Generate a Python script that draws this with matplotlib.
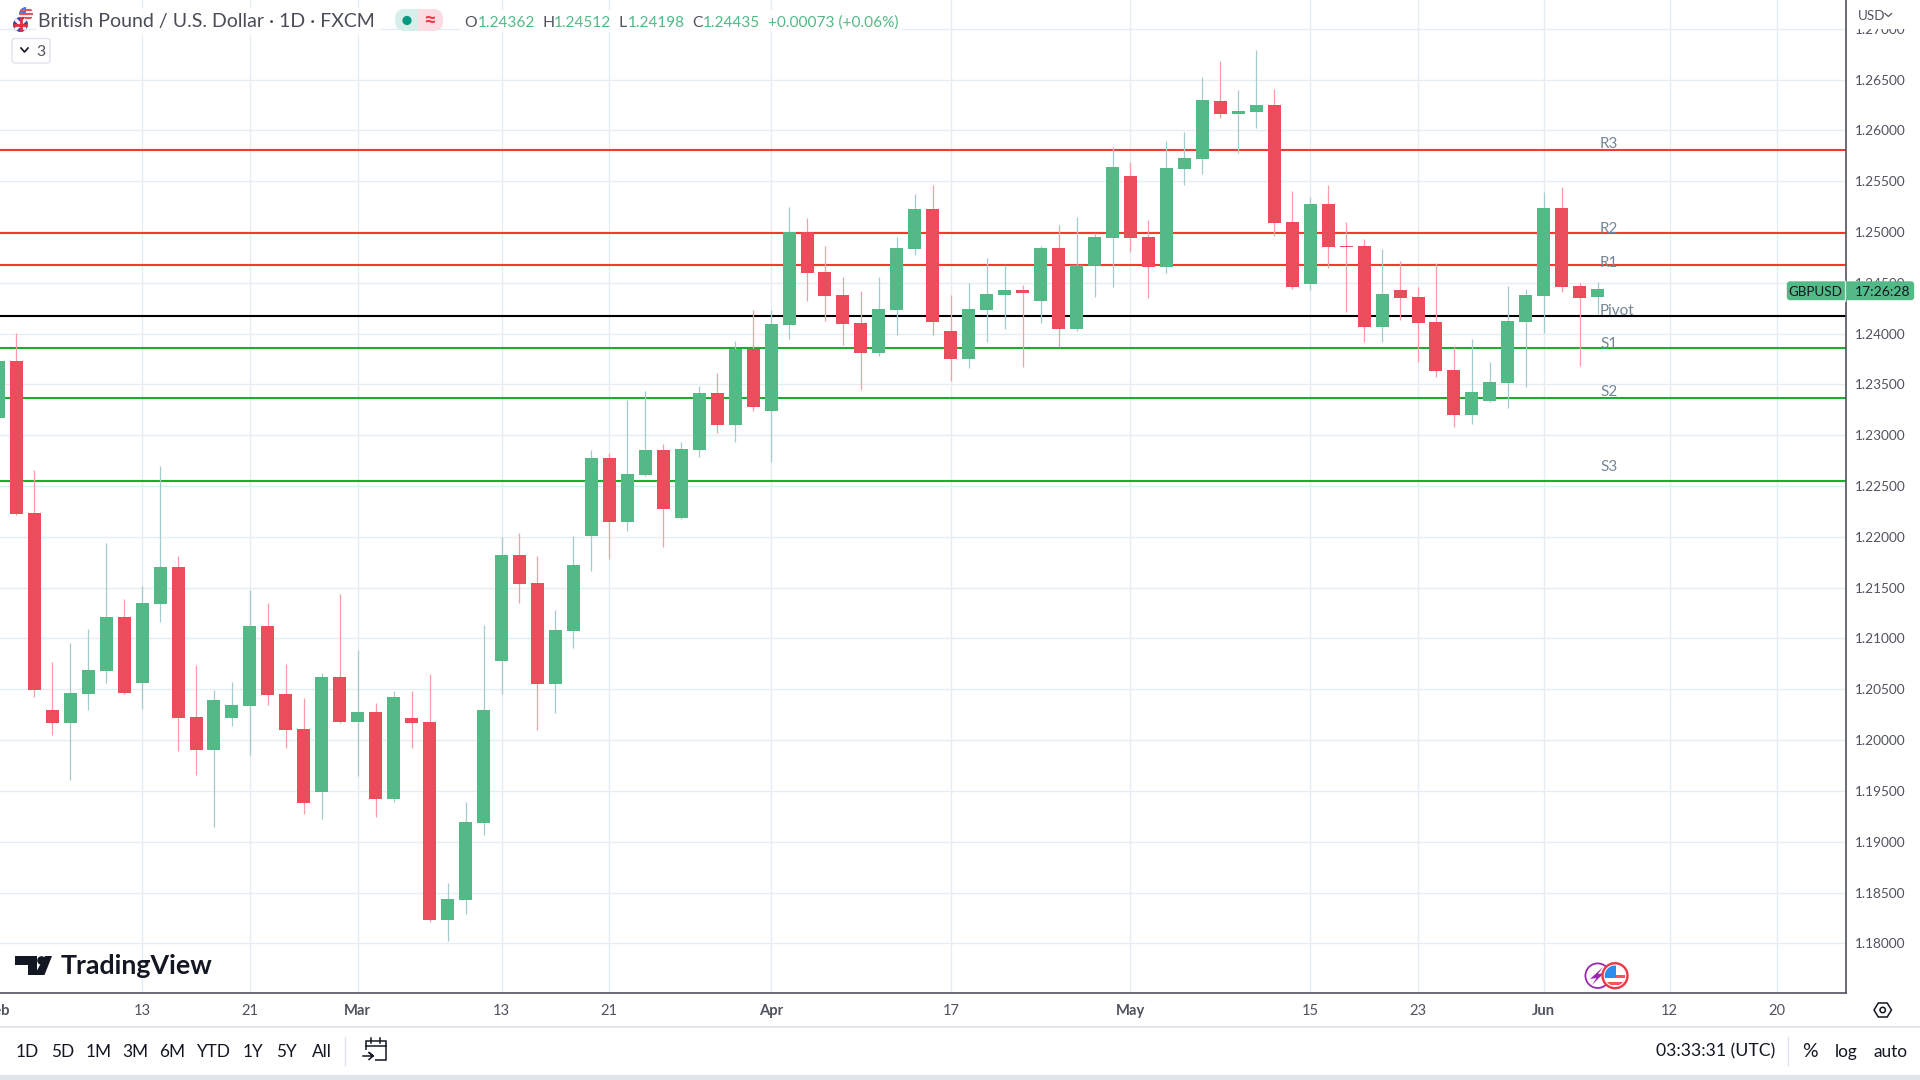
import numpy as np
import matplotlib
matplotlib.use("Agg")
import matplotlib.pyplot as plt
from matplotlib.patches import Rectangle, Circle, Polygon, FancyBboxPatch
from matplotlib.lines import Line2D

plt.rcParams["font.family"] = ["Lato", "DejaVu Sans"]

opens = [1.23170,1.23731,1.22235,1.20296,1.20168,1.20453,1.20680,1.21211,1.20562,1.21339,
 1.21703,1.20227,1.19902,1.20217,1.20335,1.21123,1.20453,1.20109,1.19489,1.20621,
 1.20178,1.20276,1.19420,1.20217,1.20178,1.18229,1.18426,1.19184,1.20778,1.21821,
 1.21546,1.20552,1.21073,1.22008,1.22776,1.22146,1.22609,1.22855,1.22186,1.22855,
 1.23416,1.23101,1.23849,1.23239,1.24085,1.25001,1.24607,1.24380,1.24105,1.23810,
 1.24233,1.24833,1.25227,1.24026,1.23751,1.24233,1.24380,1.24430,1.24321,1.24843,
 1.24046,1.24666,1.24941,1.25552,1.24951,1.24656,1.25621,1.25719,1.26290,1.26162,
 1.26182,1.26251,1.25099,1.24489,1.25276,1.24863,1.24863,1.24066,1.24430,1.24361,
 1.24115,1.23642,1.23199,1.23337,1.23514,1.24115,1.24371,1.25237,1.24469,1.24362]
closes = [1.23731,1.22225,1.20493,1.20168,1.20463,1.20690,1.21211,1.20463,1.21349,1.21703,
 1.20217,1.19902,1.20394,1.20345,1.21123,1.20444,1.20099,1.19380,1.20621,1.20178,
 1.20276,1.19420,1.20424,1.20168,1.18229,1.18436,1.19194,1.20296,1.21821,1.21536,
 1.20552,1.21083,1.21723,1.22776,1.22146,1.22619,1.22855,1.22274,1.22865,1.23416,
 1.23101,1.23849,1.23278,1.24095,1.25001,1.24597,1.24371,1.24095,1.23810,1.24243,
 1.24843,1.25227,1.24115,1.23751,1.24243,1.24390,1.24430,1.24400,1.24843,1.24046,
 1.24676,1.24951,1.25640,1.24941,1.24656,1.25630,1.25729,1.26300,1.26162,1.26191,
 1.26251,1.25089,1.24459,1.25276,1.24853,1.24853,1.24066,1.24390,1.24351,1.24105,
 1.23632,1.23199,1.23426,1.23524,1.24125,1.24380,1.25237,1.24459,1.24351,1.24435]
highs = [1.23839,1.24006,1.22658,1.20768,1.20955,1.21093,1.21940,1.21388,1.21516,1.22697,
 1.21812,1.20739,1.20493,1.20571,1.21477,1.21349,1.20749,1.20414,1.20660,1.21438,
 1.20886,1.20365,1.20483,1.20483,1.20650,1.18593,1.19390,1.21132,1.21999,1.22038,
 1.21812,1.21280,1.22008,1.22855,1.22825,1.23347,1.23436,1.22914,1.22934,1.23485,
 1.23613,1.23928,1.24233,1.24233,1.25247,1.25138,1.24863,1.24558,1.24420,1.24558,
 1.24951,1.25375,1.25463,1.24380,1.24499,1.24745,1.24676,1.24479,1.24863,1.25069,
 1.25148,1.24991,1.25837,1.25690,1.25119,1.25896,1.25985,1.26526,1.26684,1.26398,
 1.26792,1.26408,1.25404,1.25345,1.25463,1.25099,1.24932,1.24833,1.24715,1.24459,
 1.24695,1.23869,1.23947,1.23721,1.24469,1.24439,1.25394,1.25443,1.24499,1.24512]
lows = [1.23052,1.22215,1.20424,1.20050,1.19607,1.20296,1.20562,1.20458,1.20306,1.21162,
 1.19892,1.19656,1.19144,1.20138,1.19853,1.20345,1.19922,1.19272,1.19223,1.20168,
 1.19646,1.19243,1.19390,1.19922,1.18209,1.18022,1.18288,1.19066,1.20453,1.21349,
 1.20099,1.20266,1.20906,1.21664,1.21782,1.22058,1.22599,1.21900,1.22176,1.22786,
 1.23022,1.22934,1.23239,1.22737,1.23947,1.24321,1.24125,1.23888,1.23445,1.23780,
 1.23987,1.24774,1.23987,1.23534,1.23662,1.23918,1.24046,1.23672,1.24105,1.23869,
 1.24026,1.24361,1.24459,1.24804,1.24351,1.24597,1.25463,1.25571,1.26123,1.25778,
 1.26024,1.24961,1.24439,1.24430,1.24646,1.24213,1.23918,1.23918,1.24134,1.23721,
 1.23573,1.23081,1.23111,1.23332,1.23268,1.23475,1.24006,1.24410,1.23682,1.24198]

level_names = ["R3", "R2", "R1", "Pivot", "S1", "S2", "S3"]
level_values = [1.25808, 1.24994, 1.24676, 1.24174, 1.23859, 1.23367, 1.22550]
level_label_values = [1.25867, 1.25030, 1.24695, 1.24223, 1.23898, 1.23426, 1.22687]
level_colors = ["#F23A32", "#F23A32", "#F23A32", "#000000", "#1FAB2E", "#1FAB2E", "#1FAB2E"]

price_ticks = [1.18, 1.185, 1.19, 1.195, 1.20, 1.205, 1.21, 1.215, 1.22, 1.225, 1.23,
               1.235, 1.24, 1.245, 1.25, 1.255, 1.26, 1.265, 1.27]
date_ticks = [7, 13, 19, 27, 33, 42, 52, 62, 72, 78, 85, 92, 98]
date_labels = ["13", "21", "Mar", "13", "21", "Apr", "17", "May", "15", "23", "Jun", "12", "20"]
month_labels = {"Mar", "Apr", "May", "Jun"}

range_buttons = ["1D", "5D", "1M", "3M", "6M", "YTD", "1Y", "5Y", "All"]
range_centres = [27.7, 62.7, 98.7, 135, 171.7, 212.7, 253, 286.7, 322]

GREEN = "#53B987"
RED = "#EB4D5C"
WICK_G = "#A3CBCC"
WICK_R = "#F79EA8"
GRID = "#E6EDF2"
AXIS = "#50535E"
TXT = "#50535E"
DARK = "#131722"

W, H = 1920, 1080
fig = plt.figure(figsize=(W / 100, H / 100), dpi=100, facecolor="white")

AX_R = 1845.7
AX_B = 992.7
ax = fig.add_axes([0, (H - AX_B) / H, AX_R / W, AX_B / H])
ax.set_xlim(-0.907, 101.8)
ax.set_ylim(1.17514, 1.27284)

x = np.arange(-1, len(opens) - 1)
o, c, hi, lo = map(np.array, (opens, closes, highs, lows))
up = c >= o

ax.set_axisbelow(True)
ax.set_yticks(price_ticks)
ax.set_yticklabels([f"{v:.5f}" for v in price_ticks])
ax.yaxis.tick_right()
ax.set_xticks(date_ticks)
ax.set_xticklabels(date_labels)
ax.grid(True, color=GRID, lw=1.0)
ax.tick_params(axis="both", length=0)
ax.tick_params(axis="y", pad=6.8, labelsize=9.8, labelcolor=TXT)
ax.tick_params(axis="x", pad=8.2, labelsize=10.6, labelcolor=TXT)
for t in ax.get_xticklabels():
    if t.get_text() in month_labels:
        t.set_fontweight("bold")
for s in ("top", "left"):
    ax.spines[s].set_visible(False)
ax.spines["right"].set_color(AXIS)
ax.spines["right"].set_linewidth(1.2)
ax.spines["bottom"].set_color(AXIS)
ax.spines["bottom"].set_linewidth(1.2)

for val, col in zip(level_values, level_colors):
    ax.axhline(val, color=col, lw=1.5, zorder=2)
for name, val in zip(level_names, level_label_values):
    ax.text(88.13, val, name, color="#758696", fontsize=11, va="center", ha="left", zorder=2.5)

ax.vlines(x[up], lo[up], hi[up], color=WICK_G, lw=0.9, zorder=3)
ax.vlines(x[~up], lo[~up], hi[~up], color=WICK_R, lw=0.9, zorder=3)
ax.bar(x[up], np.abs(c - o)[up], bottom=np.minimum(o, c)[up], width=0.7234, color=GREEN, lw=0, zorder=4)
ax.bar(x[~up], np.abs(c - o)[~up], bottom=np.minimum(o, c)[~up], width=0.7234, color=RED, lw=0, zorder=4)

# overlay in screen pixels for the surrounding interface
ui = fig.add_axes([0, 0, 1, 1], zorder=10)
ui.set_xlim(0, W)
ui.set_ylim(H, 0)
ui.axis("off")
ui.patch.set_alpha(0)


def T(px, py, s, size, color=TXT, ha="left", weight="normal", **kw):
    return ui.text(px, py, s, fontsize=size, color=color, ha=ha, va="center", fontweight=weight, **kw)


# bottom panels
ui.add_line(Line2D([0, W], [1026.7, 1026.7], color="#E0E3EB", lw=1.3))
ui.add_patch(Rectangle((0, 1075), W, 5, color="#E0E3EB", lw=0))
ui.add_patch(Rectangle((0, 1027.3), W, 47.7, color="white", lw=0, zorder=0.5))
T(-2, 1011, "Feb", 10.6, ha="center", weight="bold")

# header
ui.add_patch(Rectangle((36, 8), 345, 27, color="white", alpha=0.85, lw=0))
ui.add_patch(Rectangle((460, 10), 442, 22, color="white", alpha=0.85, lw=0))
T(38.5, 22, "British Pound / U.S. Dollar · 1D · FXCM", 14, color="#4A4D57")
T(464, 23, "O", 11.3)
T(478, 23, "1.24362", 11.1, color=GREEN)
T(542, 23, "H", 11.3)
T(554, 23, "1.24512", 11.1, color=GREEN)
T(618.5, 23, "L", 11.3)
T(628, 23, "1.24198", 11.1, color=GREEN)
T(692, 23, "C", 11.3)
T(703, 23, "1.24435", 11.1, color=GREEN)
T(768, 23, "+0.00073 (+0.06%)", 11.1, color=GREEN)

# status pill
ui.add_patch(FancyBboxPatch((395, 9), 48, 22, boxstyle="round,pad=0,rounding_size=10", fc="#D7EFEA", ec="none"))
ui.add_patch(Rectangle((418, 9), 14, 22, color="#FBDCE2", lw=0))
ui.add_patch(FancyBboxPatch((420, 9), 23, 22, boxstyle="round,pad=0,rounding_size=10", fc="#FBDCE2", ec="none"))
ui.add_patch(Circle((407, 20.5), 4.6, color="#089981", lw=0))
T(430, 20.5, "≈", 16, color="#F23645", ha="center", weight="bold")

# legend toggle
ui.add_patch(FancyBboxPatch((12, 38.5), 38, 24.5, boxstyle="round,pad=0,rounding_size=3", fc="white", ec="#E0E3EB", lw=1))
ui.add_line(Line2D([21, 24.5, 28], [48, 52, 48], color=DARK, lw=1.2))
T(36, 51.5, "3", 11.3, color=TXT)

# flags
flag_us = Circle((26, 14), 7, fc="#F2F4F7", ec="none")
ui.add_patch(flag_us)
r = Rectangle((19, 7), 7, 7, color="#3D7FE0", lw=0)
ui.add_patch(r)
r.set_clip_path(flag_us)
for yy in (9, 13, 17):
    r = Rectangle((19, yy), 14, 1.6, color="#E8505B", lw=0)
    ui.add_patch(r)
    r.set_clip_path(flag_us)
flag_uk = Circle((20.5, 24.5), 7.5, fc="#2E4FA8", ec="none")
ui.add_patch(flag_uk)
for seg in ([13, 28], [17, 32]), ([28, 13], [17, 32]):
    l = Line2D(*seg, color="#F5F5F5", lw=2.4)
    ui.add_line(l)
    l.set_clip_path(flag_uk)
for seg in ([13, 28], [24.5, 24.5]), ([20.5, 20.5], [17, 32]):
    l = Line2D(*seg, color="#E8303F", lw=2)
    ui.add_line(l)
    l.set_clip_path(flag_uk)

# currency label
ui.add_patch(Rectangle((1846.5, 0), 73.5, 29, color="white", lw=0))
T(1858, 16, "USD", 9.6, color=TXT)
ui.add_line(Line2D([1885, 1888.3, 1891.6], [13.5, 16.5, 13.5], color=TXT, lw=0.9))

# price tag
ui.add_patch(FancyBboxPatch((1787.5, 282), 126, 17.5, boxstyle="round,pad=0,rounding_size=2.5", fc=GREEN, ec=GREEN, lw=1))
ui.add_line(Line2D([1845.3, 1845.3], [281, 300.5], color="#D8F0E3", lw=0.9))
T(1815, 291.5, "GBPUSD", 9.6, color=DARK, ha="center")
T(1882.5, 291.5, "17:26:28", 10, color=DARK, ha="center")

# TradingView mark
ui.add_patch(Polygon([(15, 956), (37, 956), (37, 975), (27.5, 975), (27.5, 965), (15, 965)], color=DARK, lw=0))
ui.add_patch(Circle((41.5, 960.5), 4.3, color=DARK, lw=0))
ui.add_patch(Polygon([(45, 956), (52, 956), (44.5, 975), (34.5, 975)], color=DARK, lw=0))
T(61, 966, "TradingView", 19.3, color=DARK, weight="bold")

# event icons
ui.add_patch(Circle((1597.7, 975.7), 12.3, fc="white", ec="#9C27B0", lw=1.3))
ui.add_patch(Polygon([(1603, 967), (1590, 979), (1596.5, 978), (1592, 985), (1604, 973), (1598, 974)], color="#9C27B0", lw=0))
flag_ev = Circle((1615, 975.7), 12.5, fc="white", ec="#F23645", lw=1.7)
ui.add_patch(flag_ev)
inner = Circle((1615, 975.7), 10.2, fc="none", ec="none")
ui.add_patch(inner)
for yy, hh in ((974.5, 3), (982, 3)):
    r = Rectangle((1603, yy), 24, hh, color="#F7525F", lw=0)
    ui.add_patch(r)
    r.set_clip_path(inner)
r = Rectangle((1604, 965), 11.5, 12.5, color="#2D8CEB", lw=0)
ui.add_patch(r)
r.set_clip_path(inner)

# settings hexagon
ui.add_patch(Polygon([(1874, 1010), (1878.3, 1003), (1887.2, 1003), (1891.5, 1010), (1887.2, 1017), (1878.3, 1017)],
                     fc="white", ec=DARK, lw=1.1))
ui.add_patch(Circle((1882.7, 1010), 2.7, fc="white", ec=DARK, lw=1.1))

# bottom toolbar
for lab, cx in zip(range_buttons, range_centres):
    T(cx, 1051.7, lab, 12.4, color=DARK, ha="center")
for sx in (345.3, 1788):
    ui.add_line(Line2D([sx, sx], [1037, 1065], color="#E0E3EB", lw=1))
ui.add_patch(Rectangle((366, 1041), 19.5, 19, fc="none", ec=DARK, lw=1.1))
ui.add_patch(Rectangle((362, 1050), 13, 12, fc="white", ec="none"))
ui.add_line(Line2D([366, 385.5], [1045.5, 1045.5], color=DARK, lw=1.1))
ui.add_line(Line2D([371, 371], [1038, 1043], color=DARK, lw=1.1))
ui.add_line(Line2D([380, 380], [1038, 1043], color=DARK, lw=1.1))
ui.add_line(Line2D([363, 373, 369, 373, 369], [1056, 1056, 1052.5, 1056, 1059.5], color=DARK, lw=1.1))
T(1716, 1051.7, "03:33:31 (UTC)", 12.7, color=DARK, ha="center")
T(1810, 1051.7, "%", 14, color=DARK, ha="center")
T(1845.7, 1051.7, "log", 12.4, color=DARK, ha="center")
T(1890, 1051.7, "auto", 12.4, color=DARK, ha="center")

fig.savefig("out.png", dpi=100, facecolor="white")
